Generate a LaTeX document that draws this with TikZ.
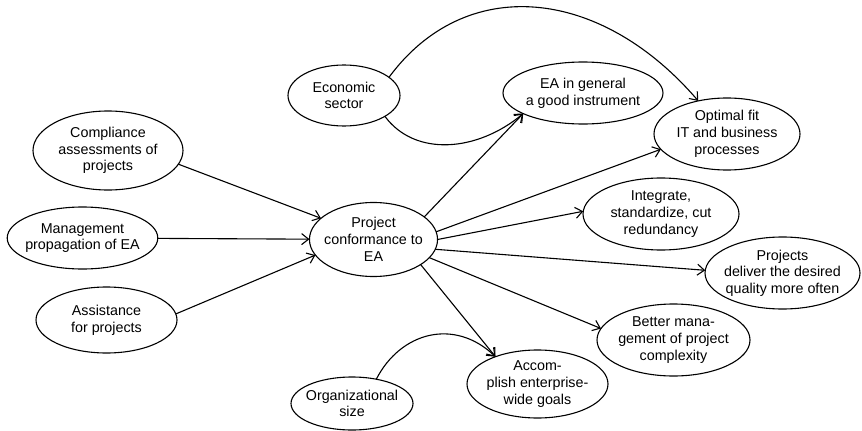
\documentclass[tikz,border=0pt]{standalone}
\usepackage{fontspec}
\setmainfont{Liberation Sans}
\usetikzlibrary{shapes.geometric,arrows.meta}
\begin{document}
\begin{tikzpicture}[x=1pt,y=-1pt,
  box/.style={ellipse, draw, line width=1.1pt, inner sep=-4pt, outer sep=0pt,
    align=center, font=\fontsize{14.3}{16.7}\selectfont},
  arr/.style={line width=1.1pt, -{Straight Barb[length=7pt,width=11pt]}}]
\useasboundingbox (0,0) rectangle (862,431);
\fill[white] (0,0) rectangle (862,431);
\node[box, minimum width=112pt, minimum height=61pt] (econ) at (344,95.5) {Economic\\sector};
\node[box, minimum width=150pt, minimum height=79pt] (comp) at (108,150.5) {Compliance\\assessments of\\projects};
\node[box, minimum width=145pt, minimum height=62pt] (mgmt) at (82.5,238) {Management\\propagation of EA};
\node[box, minimum width=141pt, minimum height=66pt] (assist) at (106.5,320) {Assistance\\for projects};
\node[box, minimum width=127pt, minimum height=74pt] (proj) at (373.5,239.5) {Project\\conformance to\\EA};
\node[box, minimum width=122pt, minimum height=53pt] (org) at (352,403.5) {Organizational\\size};
\node[box, minimum width=160pt, minimum height=62pt] (ea) at (583,93) {EA in general\\a good instrument};
\node[box, minimum width=146pt, minimum height=72pt] (opt) at (727,134) {Optimal fit\\IT and business\\processes};
\node[box, minimum width=156pt, minimum height=72pt] (integ) at (661,214) {Integrate,\\standardize, cut\\redundancy};
\node[box, minimum width=155pt, minimum height=72pt] (deliver) at (782.5,273) {Projects\\deliver the desired\\quality more often};
\node[box, minimum width=153pt, minimum height=72pt] (better) at (673.5,340) {Better mana-\\gement of project\\complexity};
\node[box, minimum width=141pt, minimum height=68pt] (accomp) at (537.5,384) {Accom-\\plish enterprise-\\wide goals};
\draw[arr] (comp.-11.4) -- (proj.158);
\draw[arr] (mgmt) -- (proj);
\draw[arr] (assist.5.7) -- (proj.195);
\draw[arr] (proj.24.5) -- (ea.199);
\draw[arr] (proj.7.6) -- (opt.193.6);
\draw[arr] (proj.0) -- (integ.178);
\draw[arr] (proj.-9.4) -- (deliver.178);
\draw[arr] (proj.-18) -- (better.171);
\draw[arr] (proj.-28) -- (accomp.147.5);
\draw[arr] (econ.22) .. controls (465,-26) and (599.5,-14) .. (opt.131.4);
\draw[arr] (econ.-27.7) .. controls (415,157) and (477,152) .. (ea.199);
\draw[arr] (org.45) .. controls (400.5,332) and (454.5,317.5) .. (accomp.147.5);
\end{tikzpicture}
\end{document}
